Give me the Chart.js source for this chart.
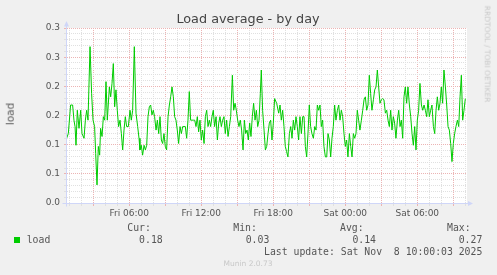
<!DOCTYPE html>
<html><head><meta charset="utf-8">
<script src="https://cdn.jsdelivr.net/npm/chart.js@4/dist/chart.umd.min.js"></script>
<style>
html,body{margin:0;padding:0;background:#F0F0F0;}
#wrap{position:relative;width:497px;height:275px;overflow:hidden;font-family:"DejaVu Sans",sans-serif;color:#555;}
canvas{position:absolute;left:0;top:0;}
.t{position:absolute;white-space:pre;line-height:1;}
.mono{font-family:"DejaVu Sans Mono",monospace;font-size:9.8px;color:#555;}
</style></head><body>
<div id="wrap">
<canvas id="c" width="497" height="275"></canvas>
<div class="t" style="left:0;width:496px;text-align:center;top:12.5px;font-size:12.8px;color:#444;">Load average - by day</div>
<div class="t" style="left:10px;top:114px;font-size:10.5px;color:#5a5a5a;transform:translate(-50%,-50%) rotate(-90deg);">load</div>
<div class="t" style="left:487px;top:53.5px;font-size:7.5px;color:#c8c8c8;transform:translate(-50%,-50%) rotate(90deg);">RRDTOOL / TOBI OETIKER</div>
<div class="t mono" style="left:127.3px;top:223.4px;">Cur:</div>
<div class="t mono" style="left:233.3px;top:223.4px;">Min:</div>
<div class="t mono" style="left:340px;top:223.4px;">Avg:</div>
<div class="t mono" style="left:447px;top:223.4px;">Max:</div>
<div style="position:absolute;left:14px;top:237px;width:6px;height:6px;background:#00CC00;"></div>
<div class="t mono" style="left:26.7px;top:235px;">load</div>
<div class="t mono" style="right:334.3px;top:235px;">0.18</div>
<div class="t mono" style="right:227.7px;top:235px;">0.03</div>
<div class="t mono" style="right:121px;top:235px;">0.14</div>
<div class="t mono" style="right:14.7px;top:235px;">0.27</div>
<div class="t mono" style="right:14.7px;top:246.8px;">Last update: Sat Nov  8 10:00:03 2025</div>
<div class="t" style="left:0;width:496px;text-align:center;top:260.3px;font-size:7.5px;color:#c8c8c8;">Munin 2.0.73</div>
</div>
<script>
// hours since Fri 00:00
const hoursSinceFriMidnight = [
0.78,0.92,1.11,1.28,1.39,1.48,1.56,1.67,1.81,1.95,
2.06,2.23,2.34,2.45,2.56,2.73,2.86,2.98,3.11,3.20,
3.31,3.42,3.53,3.61,3.73,3.84,3.95,4.06,4.17,4.34,
4.45,4.56,4.67,4.78,4.89,5.00,5.11,5.23,5.34,5.45,
5.56,5.67,5.78,5.92,6.06,6.17,6.28,6.42,6.56,6.70,
6.81,6.89,7.00,7.11,7.23,7.34,7.45,7.56,7.67,7.78,
7.89,8.00,8.11,8.23,8.34,8.45,8.56,8.67,8.78,8.89,
9.00,9.11,9.23,9.34,9.45,9.56,9.67,9.78,9.89,10.00,
10.11,10.23,10.34,10.45,10.56,10.67,10.78,10.89,11.00,11.11,
11.23,11.34,11.45,11.56,11.67,11.78,11.89,12.00,12.11,12.23,
12.34,12.45,12.56,12.67,12.78,12.89,13.00,13.11,13.23,13.34,
13.45,13.56,13.67,13.78,13.89,14.00,14.11,14.23,14.34,14.45,
14.59,14.70,14.81,14.92,15.03,15.14,15.25,15.36,15.48,15.59,
15.70,15.81,15.92,16.03,16.14,16.25,16.36,16.48,16.59,16.70,
16.81,16.92,17.00,17.11,17.23,17.34,17.45,17.56,17.67,17.78,
17.89,18.00,18.11,18.28,18.45,
18.56,18.67,18.78,18.89,19.00,19.11,19.22,19.34,19.45,19.56,
19.67,19.78,19.89,20.00,20.11,20.22,20.34,20.45,20.56,20.67,
20.78,20.89,21.00,21.11,21.22,21.34,21.45,21.56,21.67,21.78,
21.89,22.00,22.11,22.22,22.34,22.45,22.56,22.67,22.78,22.89,
23.00,23.11,23.22,23.34,23.45,23.56,23.67,23.78,23.89,24.00,
24.11,24.22,24.34,24.45,24.56,24.67,24.78,24.89,25.00,25.11,
25.22,25.34,25.45,25.56,25.67,25.78,25.89,26.00,26.11,26.22,
26.34,26.45,26.56,26.67,26.78,26.89,27.00,27.11,27.22,27.34,
27.45,27.56,27.67,27.78,27.89,28.00,28.11,28.22,28.34,28.45,
28.56,28.67,28.78,28.89,29.00,29.11,29.22,29.34,29.45,29.56,
29.67,29.78,29.89,30.00,30.11,30.22,30.34,30.45,30.56,30.67,
30.78,30.89,31.00,31.11,31.22,31.34,31.45,31.56,31.67,31.78,
31.89,32.00,32.11,32.22,32.34,32.45,32.56,32.67,32.78,32.89,
33.00,33.11,33.22,33.34,33.45,33.56,33.67,33.78,33.89,34.00
];
const loadAvg = [
0.111,0.119,0.168,0.168,0.142,0.131,0.099,0.159,0.128,0.159,
0.119,0.111,0.142,0.159,0.142,0.268,0.188,0.142,0.131,0.085,
0.031,0.097,0.082,0.128,0.114,0.148,0.142,0.208,0.142,0.199,
0.182,0.205,0.239,0.165,0.194,0.159,0.131,0.142,0.119,0.091,
0.125,0.148,0.131,0.131,0.159,0.142,0.159,0.268,0.154,0.131,
0.111,0.091,0.099,0.082,0.099,0.091,0.099,0.148,0.165,0.168,
0.151,0.159,0.148,0.125,0.142,0.119,0.148,0.108,0.102,0.119,
0.097,0.091,0.148,0.168,0.182,0.199,0.182,0.148,0.142,0.125,
0.102,0.131,0.119,0.131,0.131,0.131,0.111,0.142,0.191,0.142,
0.142,0.142,0.142,0.131,0.148,0.122,0.142,0.108,0.125,0.102,
0.148,0.159,0.131,0.142,0.131,0.148,0.159,0.131,0.148,0.108,
0.137,0.148,0.131,0.142,0.148,0.119,0.142,0.114,0.131,0.148,
0.219,0.159,0.171,0.159,0.142,0.131,0.142,0.125,0.091,0.142,
0.119,0.125,0.108,0.137,0.114,0.148,0.171,0.142,0.159,0.131,
0.142,0.188,0.228,0.159,0.125,0.091,0.097,0.119,0.137,0.142,
0.108,0.137,0.179,0.171,0.154,
0.168,0.142,0.159,0.131,0.097,0.088,0.079,0.119,0.131,0.111,
0.142,0.125,0.148,0.131,0.108,0.148,0.119,0.148,0.148,0.097,
0.079,0.119,0.168,0.131,0.119,0.111,0.131,0.125,0.168,0.159,
0.168,0.131,0.142,0.097,0.079,0.079,0.119,0.108,0.079,0.111,
0.131,0.168,0.142,0.159,0.168,0.142,0.159,0.148,0.119,0.097,
0.108,0.079,0.119,0.097,0.079,0.119,0.111,0.119,0.159,0.142,
0.125,0.142,0.159,0.177,0.182,0.159,0.168,0.219,0.188,0.159,
0.177,0.194,0.199,0.228,0.199,0.171,0.177,0.179,0.177,0.154,
0.159,0.142,0.131,0.159,0.125,0.148,0.137,0.111,0.142,0.159,
0.131,0.142,0.111,0.182,0.199,0.171,0.199,0.168,0.148,0.119,
0.099,0.131,0.091,0.142,0.159,0.205,0.168,0.159,0.168,0.159,
0.148,0.177,0.148,0.159,0.168,0.131,0.119,0.159,0.182,0.159,
0.171,0.199,0.171,0.228,0.199,0.168,0.131,0.125,0.102,0.071,
0.102,0.119,0.131,0.142,0.131,0.182,0.219,0.142,0.159,0.179
];
const yTickValues = [0, 0.05, 0.10, 0.15, 0.20, 0.25, 0.30];
const yTickLabels = ['0.0', '0.1', '0.1', '0.2', '0.2', '0.3', '0.3'];
const xTickHours = [6, 12, 18, 24, 30];
const xTickLabels = ['Fri 06:00', 'Fri 12:00', 'Fri 18:00', 'Sat 00:00', 'Sat 06:00'];
const xRange = [0.81, 34.14];
const yRange = [0, 0.30];

const points = hoursSinceFriMidnight.map((h, i) => ({x: h, y: loadAvg[i]}));
const yGrid = []; for (let i = 0; i <= 30; i++) yGrid.push(i / 100);
const xGrid = []; for (let h = 1; h <= 34; h++) xGrid.push(h);

const MINOR = '#e0e0e0';
const MAJOR = '#ecb4b4';
const AXIS = '#CFD6F8';

const muninPlugin = {
  id: 'munin',
  beforeDraw(chart) {
    const {ctx, chartArea: a} = chart;
    ctx.save();
    ctx.fillStyle = '#FFFFFF';
    ctx.fillRect(a.left, a.top, a.right - a.left, a.bottom - a.top);
    ctx.restore();
  },
  afterDatasetsDraw(chart) {
    const {ctx, chartArea: a} = chart;
    ctx.save();
    ctx.strokeStyle = AXIS; ctx.fillStyle = AXIS; ctx.lineWidth = 1; ctx.setLineDash([]);
    const xl = a.left - 0.5, yb = a.bottom + 0.5;
    ctx.beginPath(); ctx.moveTo(xl, yb + 3); ctx.lineTo(xl, a.top - 3); ctx.stroke();
    ctx.beginPath(); ctx.moveTo(xl - 2.5, a.top - 1.5); ctx.lineTo(xl + 2.5, a.top - 1.5); ctx.lineTo(xl, a.top - 7); ctx.closePath(); ctx.fill();
    ctx.beginPath(); ctx.moveTo(xl - 4, yb); ctx.lineTo(a.right + 2, yb); ctx.stroke();
    ctx.beginPath(); ctx.moveTo(a.right + 1, yb - 2.5); ctx.lineTo(a.right + 1, yb + 2.5); ctx.lineTo(a.right + 6, yb); ctx.closePath(); ctx.fill();
    ctx.restore();
  }
};

new Chart(document.getElementById('c'), {
  type: 'line',
  data: { datasets: [{ data: points, borderColor: '#00CC00', borderWidth: 1, pointRadius: 0, tension: 0, fill: false }] },
  options: {
    responsive: false, animation: false, events: [],
    layout: { padding: { left: 0, top: 28, right: 30, bottom: 0 } },
    plugins: { legend: { display: false }, tooltip: { enabled: false }, title: { display: false } },
    scales: {
      x: {
        type: 'linear', min: xRange[0], max: xRange[1],
        afterBuildTicks: s => { s.ticks = xGrid.map(v => ({value: v})); },
        afterFit: s => { s.height = 72; },
        grid: {
          color: c => (c.tick && c.tick.value % 3 === 0) ? MAJOR : MINOR,
          tickColor: c => (c.tick && c.tick.value % 3 === 0) ? MAJOR : MINOR,
          lineWidth: 1, tickLength: 3, drawTicks: true
        },
        border: { display: false, dash: [1, 1] },
        ticks: {
          autoSkip: false, maxRotation: 0, padding: 2, color: '#555',
          font: { family: 'DejaVu Sans', size: 9 },
          callback: v => { const i = xTickHours.indexOf(v); return i >= 0 ? xTickLabels[i] : ''; }
        }
      },
      y: {
        type: 'linear', min: yRange[0], max: yRange[1],
        afterBuildTicks: s => { s.ticks = yGrid.map(v => ({value: v})); },
        afterFit: s => { s.width = 67; },
        grid: {
          color: c => (c.tick && Math.round(c.tick.value * 100) % 5 === 0) ? MAJOR : MINOR,
          tickColor: c => (c.tick && Math.round(c.tick.value * 100) % 5 === 0) ? MAJOR : MINOR,
          lineWidth: 1, tickLength: 3, drawTicks: true
        },
        border: { display: false, dash: [1, 1] },
        ticks: {
          autoSkip: false, padding: 4, color: '#555',
          font: { family: 'DejaVu Sans', size: 9 },
          callback: v => {
            const k = Math.round(v * 100);
            if (k % 5 !== 0) return '';
            const i = yTickValues.findIndex(t => Math.round(t * 100) === k);
            return i >= 0 ? yTickLabels[i] : '';
          }
        }
      }
    }
  },
  plugins: [muninPlugin]
});
</script>
</body></html>
